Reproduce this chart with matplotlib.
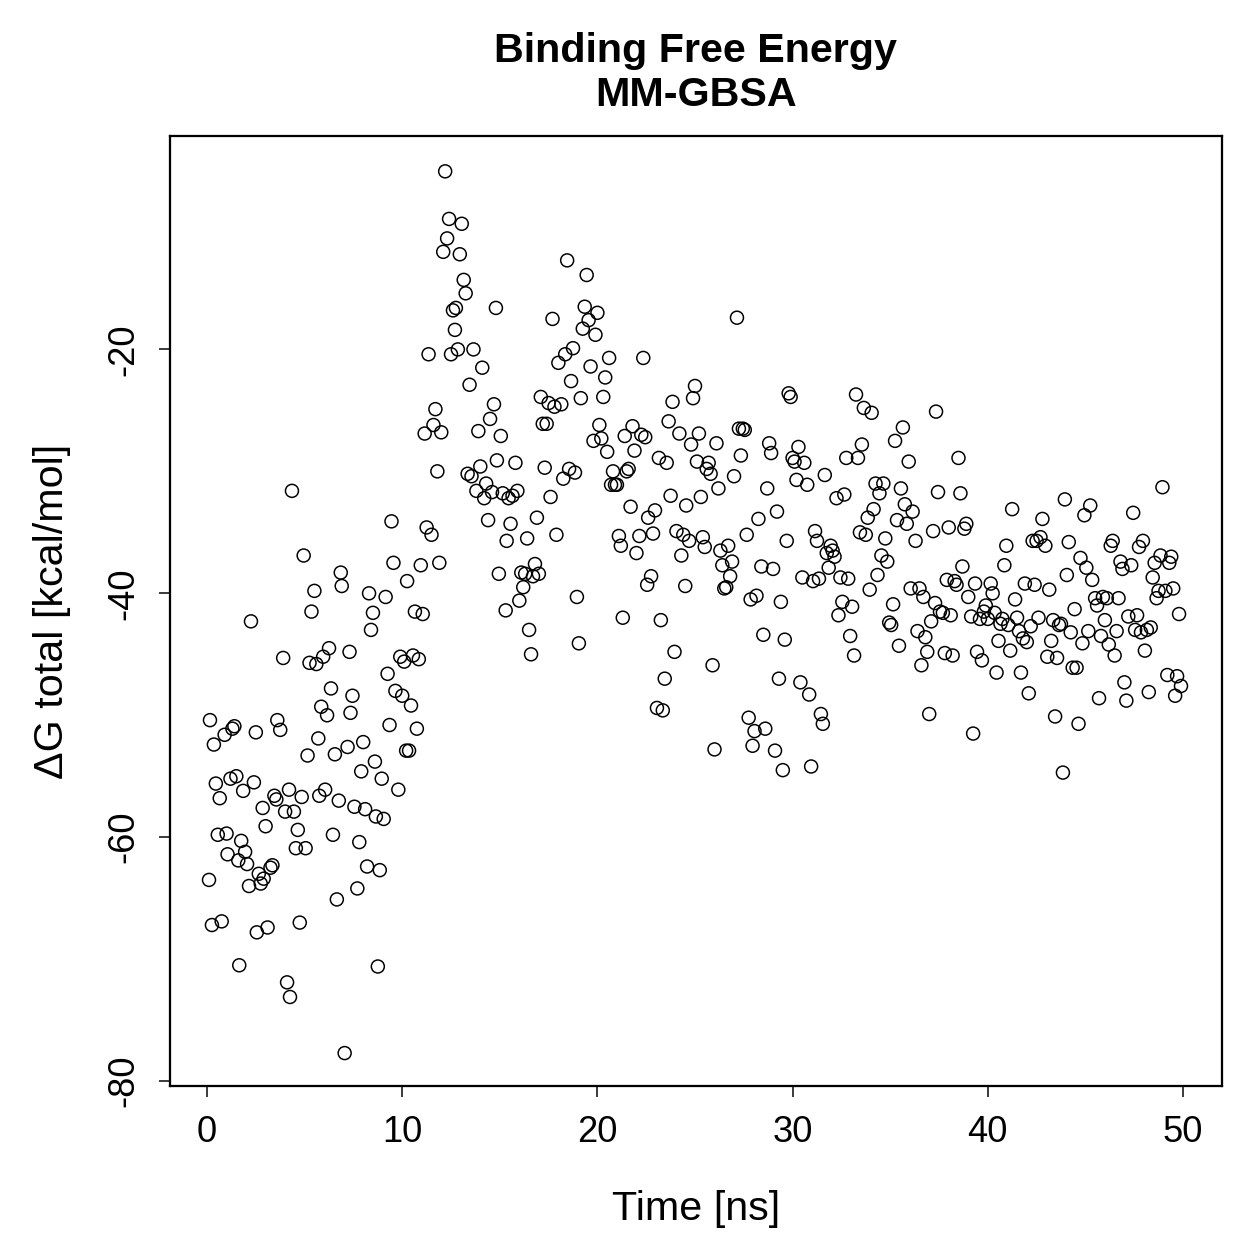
import numpy as np
import matplotlib
matplotlib.use("Agg")
import matplotlib.pyplot as plt

# MM-GBSA binding free energy per frame
time_ns = [
    0.1, 0.15, 0.25, 0.35, 0.45, 0.55, 0.65, 0.75, 0.9, 1.0,
    1.05, 1.2, 1.3, 1.4, 1.5, 1.6, 1.65, 1.75, 1.85, 1.95,
    2.05, 2.15, 2.25, 2.4, 2.5, 2.55, 2.65, 2.75, 2.85, 2.9,
    3.0, 3.1, 3.25, 3.35, 3.45, 3.55, 3.6, 3.75, 3.9, 4.0,
    4.1, 4.2, 4.25, 4.35, 4.45, 4.55, 4.65, 4.75, 4.85, 4.95,
    5.05, 5.15, 5.25, 5.35, 5.5, 5.6, 5.7, 5.75, 5.85, 5.95,
    6.05, 6.15, 6.25, 6.35, 6.45, 6.55, 6.65, 6.75, 6.85, 6.9,
    7.05, 7.2, 7.3, 7.35, 7.45, 7.55, 7.7, 7.8, 7.9, 8.0,
    8.1, 8.2, 8.3, 8.4, 8.5, 8.6, 8.65, 8.75, 8.85, 8.95,
    9.05, 9.15, 9.25, 9.35, 9.45, 9.55, 9.65, 9.8, 9.9, 10.0,
    10.1, 10.2, 10.25, 10.35, 10.45, 10.55, 10.65, 10.75, 10.85, 10.95,
    11.05, 11.15, 11.25, 11.35, 11.5, 11.6, 11.7, 11.8, 11.9, 12.0,
    12.1, 12.2, 12.3, 12.4, 12.5, 12.6, 12.7, 12.75, 12.85, 12.95,
    13.05, 13.15, 13.25, 13.35, 13.45, 13.55, 13.65, 13.8, 13.9, 14.0,
    14.1, 14.2, 14.3, 14.4, 14.5, 14.6, 14.7, 14.8, 14.85, 14.95,
    15.05, 15.15, 15.3, 15.35, 15.45, 15.55, 15.65, 15.8, 15.9, 16.0,
    16.1, 16.2, 16.3, 16.4, 16.5, 16.6, 16.7, 16.8, 16.9, 17.0,
    17.1, 17.2, 17.3, 17.4, 17.5, 17.6, 17.7, 17.8, 17.9, 18.0,
    18.15, 18.25, 18.35, 18.45, 18.55, 18.65, 18.75, 18.85, 18.95, 19.05,
    19.15, 19.25, 19.35, 19.45, 19.55, 19.65, 19.8, 19.9, 20.0, 20.1,
    20.2, 20.3, 20.4, 20.5, 20.6, 20.7, 20.8, 20.9, 21.0, 21.1,
    21.2, 21.3, 21.4, 21.5, 21.6, 21.7, 21.8, 21.9, 22.0, 22.15,
    22.25, 22.35, 22.45, 22.55, 22.6, 22.75, 22.85, 22.95, 23.05, 23.15,
    23.25, 23.35, 23.45, 23.55, 23.65, 23.75, 23.85, 23.95, 24.05, 24.2,
    24.3, 24.4, 24.5, 24.55, 24.7, 24.8, 24.9, 25.0, 25.1, 25.2,
    25.3, 25.4, 25.5, 25.6, 25.7, 25.8, 25.9, 26.0, 26.1, 26.2,
    26.3, 26.4, 26.5, 26.6, 26.7, 26.8, 26.9, 27.0, 27.15, 27.25,
    27.35, 27.45, 27.55, 27.65, 27.75, 27.85, 27.95, 28.05, 28.15, 28.25,
    28.4, 28.5, 28.6, 28.7, 28.8, 28.9, 29.0, 29.1, 29.2, 29.3,
    29.4, 29.5, 29.6, 29.7, 29.8, 29.9, 30.0, 30.1, 30.2, 30.3,
    30.4, 30.5, 30.6, 30.75, 30.85, 30.95, 31.05, 31.15, 31.25, 31.35,
    31.45, 31.55, 31.65, 31.75, 31.85, 31.95, 32.05, 32.15, 32.25, 32.35,
    32.45, 32.55, 32.65, 32.75, 32.85, 32.95, 33.05, 33.15, 33.25, 33.35,
    33.45, 33.55, 33.65, 33.75, 33.85, 33.95, 34.05, 34.15, 34.25, 34.35,
    34.45, 34.55, 34.65, 34.75, 34.85, 34.95, 35.05, 35.15, 35.25, 35.35,
    35.45, 35.55, 35.65, 35.75, 35.85, 35.95, 36.05, 36.15, 36.3, 36.4,
    36.5, 36.6, 36.7, 36.8, 36.9, 37.0, 37.1, 37.2, 37.3, 37.35,
    37.45, 37.55, 37.7, 37.8, 37.9, 38.0, 38.1, 38.2, 38.3, 38.4,
    38.5, 38.6, 38.7, 38.8, 38.9, 39.0, 39.15, 39.25, 39.35, 39.45,
    39.6, 39.7, 39.8, 39.9, 40.0, 40.15, 40.25, 40.35, 40.45, 40.55,
    40.65, 40.75, 40.85, 40.95, 41.05, 41.15, 41.25, 41.4, 41.5, 41.6,
    41.7, 41.8, 41.9, 42.0, 42.1, 42.2, 42.3, 42.4, 42.5, 42.6,
    42.7, 42.8, 42.95, 43.05, 43.15, 43.25, 43.35, 43.45, 43.55, 43.65,
    43.75, 43.85, 43.95, 44.05, 44.15, 44.25, 44.35, 44.45, 44.55, 44.65,
    44.75, 44.85, 44.95, 45.05, 45.15, 45.25, 45.35, 45.5, 45.6, 45.7,
    45.8, 45.9, 46.0, 46.1, 46.2, 46.3, 46.4, 46.5, 46.6, 46.7,
    46.8, 46.9, 47.0, 47.1, 47.2, 47.35, 47.45, 47.55, 47.65, 47.75,
    47.85, 47.95, 48.05, 48.15, 48.25, 48.35, 48.45, 48.55, 48.65, 48.75,
    48.85, 48.95, 49.1, 49.2, 49.3, 49.4, 49.5, 49.6, 49.7, 49.8,
    49.9,
]

dg_total = [
    -63.5, -50.4, -67.2, -52.4, -55.6, -59.8, -56.8, -66.9, -51.6, -59.7,
    -61.4, -55.2, -51.1, -50.9, -55.0, -61.9, -70.5, -60.3, -56.2, -61.2,
    -62.2, -64.0, -42.3, -55.5, -51.4, -67.8, -63.0, -63.8, -57.6, -63.4,
    -59.1, -67.4, -62.5, -62.3, -56.6, -56.9, -50.4, -51.2, -45.3, -57.9,
    -71.9, -56.1, -73.1, -31.6, -57.9, -60.9, -59.4, -67.0, -56.7, -36.9,
    -60.9, -53.3, -45.7, -41.5, -39.8, -45.8, -51.9, -56.6, -49.3, -45.2,
    -56.1, -50.0, -44.5, -47.8, -59.8, -53.2, -65.1, -57.0, -38.3, -39.4,
    -77.7, -52.6, -44.8, -49.8, -48.4, -57.5, -64.2, -60.4, -54.6, -52.2,
    -57.7, -62.4, -40.0, -43.0, -41.6, -53.8, -58.3, -70.6, -62.7, -55.2,
    -58.5, -40.3, -46.6, -50.8, -34.1, -37.5, -48.0, -56.1, -45.2, -48.4,
    -45.6, -52.9, -39.0, -52.9, -49.2, -45.1, -41.5, -51.1, -45.4, -37.7,
    -41.7, -26.9, -34.6, -20.4, -35.2, -26.2, -24.9, -30.0, -37.5, -26.8,
    -12.0, -5.4, -10.9, -9.3, -20.4, -16.8, -18.4, -16.6, -20.0, -12.2,
    -9.7, -14.3, -15.4, -30.2, -22.9, -30.4, -20.0, -31.6, -26.7, -29.6,
    -21.5, -32.2, -31.0, -34.0, -25.7, -31.7, -24.5, -16.6, -29.1, -38.4,
    -27.1, -31.8, -41.4, -35.7, -32.2, -34.3, -32.0, -29.3, -31.6, -40.6,
    -38.3, -39.5, -38.4, -35.5, -43.0, -45.0, -38.6, -37.6, -33.8, -38.4,
    -23.9, -26.1, -29.7, -26.1, -24.4, -32.1, -17.5, -24.7, -35.2, -21.1,
    -24.5, -30.6, -20.4, -12.7, -29.8, -22.6, -19.9, -30.1, -40.3, -44.1,
    -24.0, -18.3, -16.5, -13.9, -17.6, -21.4, -27.5, -18.8, -17.0, -26.2,
    -27.3, -23.9, -22.3, -28.4, -20.7, -31.1, -30.0, -31.1, -31.1, -35.3,
    -36.1, -42.0, -27.1, -30.0, -29.8, -32.9, -26.3, -28.3, -36.7, -35.3,
    -27.0, -20.7, -27.2, -39.3, -33.8, -38.6, -35.1, -33.2, -49.4, -28.9,
    -42.2, -49.6, -47.0, -29.3, -25.9, -32.0, -24.3, -44.8, -34.9, -26.9,
    -36.9, -35.2, -39.4, -32.8, -35.7, -27.8, -24.0, -23.0, -29.2, -26.9,
    -32.1, -35.4, -36.2, -29.8, -29.3, -30.2, -45.9, -52.8, -27.7, -31.4,
    -36.5, -37.7, -39.6, -39.5, -36.1, -38.6, -37.4, -30.4, -17.4, -26.5,
    -28.7, -26.5, -26.6, -35.2, -50.2, -40.5, -52.5, -51.3, -40.2, -33.9,
    -37.8, -43.4, -51.1, -31.4, -27.7, -28.5, -38.0, -52.9, -33.3, -47.0,
    -40.7, -54.5, -43.8, -35.7, -23.6, -23.9, -28.9, -29.2, -30.7, -28.0,
    -47.3, -38.7, -29.3, -31.1, -48.3, -54.2, -39.0, -34.9, -35.7, -38.8,
    -49.9, -50.7, -30.3, -36.7, -37.9, -36.1, -36.5, -37.0, -32.2, -41.8,
    -38.7, -40.7, -31.9, -28.9, -38.8, -43.5, -41.1, -45.1, -23.7, -28.9,
    -35.0, -27.8, -24.8, -35.2, -33.8, -39.7, -25.2, -33.1, -31.0, -38.5,
    -31.8, -36.9, -31.0, -35.5, -37.4, -42.4, -42.6, -40.9, -27.5, -34.0,
    -44.3, -31.4, -26.4, -32.7, -34.3, -29.2, -39.6, -33.3, -35.7, -43.1,
    -39.6, -45.9, -40.3, -43.6, -44.8, -49.9, -42.3, -34.9, -40.8, -25.1,
    -31.7, -41.5, -41.6, -44.9, -38.9, -34.6, -41.8, -45.1, -39.0, -39.3,
    -28.9, -31.8, -37.8, -34.7, -34.3, -40.3, -41.9, -51.5, -39.2, -44.8,
    -42.1, -45.5, -41.5, -41.0, -42.1, -39.2, -40.0, -41.6, -46.5, -43.9,
    -42.5, -42.1, -37.7, -36.1, -42.6, -44.7, -33.1, -40.5, -42.0, -43.1,
    -46.5, -43.7, -39.2, -44.0, -48.2, -42.7, -35.7, -39.3, -35.7, -42.0,
    -35.4, -33.9, -36.1, -45.2, -39.7, -43.9, -42.2, -50.1, -45.3, -42.6,
    -42.5, -54.7, -32.3, -38.5, -35.8, -43.2, -46.1, -41.3, -46.1, -50.7,
    -37.1, -44.1, -33.6, -37.9, -43.1, -32.8, -38.9, -40.4, -41.0, -48.6,
    -43.5, -40.3, -42.2, -40.4, -44.2, -36.1, -35.7, -45.1, -43.1, -40.4,
    -37.4, -38.0, -47.3, -48.8, -41.9, -37.7, -33.4, -43.0, -41.8, -36.2,
    -43.2, -35.7, -44.7, -43.0, -48.1, -42.8, -38.7, -37.5, -40.4, -39.8,
    -36.9, -31.3, -39.8, -46.7, -37.5, -37.0, -39.6, -48.4, -46.8, -41.7,
    -47.6,
]

x_ticks = [0, 10, 20, 30, 40, 50]
y_ticks = [-80, -60, -40, -20]

plt.rcParams['font.family'] = ['Liberation Sans', 'DejaVu Sans']
plt.rcParams['axes.unicode_minus'] = False

fig = plt.figure(figsize=(1259 / 180, 1259 / 180), dpi=180)
ax = fig.add_axes([0.135, 0.1374, 0.8356, 0.7546])

ax.scatter(time_ns, dg_total, s=27, facecolors='none', edgecolors='black',
           linewidths=0.6)

ax.set_xlim(-1.9, 52.0)
ax.set_ylim(-80.4, -2.5)
ax.set_xticks(x_ticks)
ax.set_yticks(y_ticks)
ax.tick_params(axis='both', direction='out', length=4.5, width=0.6,
               labelsize=14.5, colors='black')
ax.tick_params(axis='x', pad=7)
ax.tick_params(axis='y', pad=7)
for lbl in ax.get_yticklabels():
    lbl.set_rotation(90)
    lbl.set_va('center')
for sp in ax.spines.values():
    sp.set_linewidth(0.9)

ax.set_xlabel('Time [ns]', fontsize=16.5, labelpad=16)
ax.set_ylabel('ΔG total [kcal/mol]', fontsize=16.5, labelpad=14)
ax.set_title('Binding Free Energy\nMM-GBSA', fontsize=16.5, fontweight='bold',
             pad=12, linespacing=1.2)

fig.savefig('out.png', dpi=180)
